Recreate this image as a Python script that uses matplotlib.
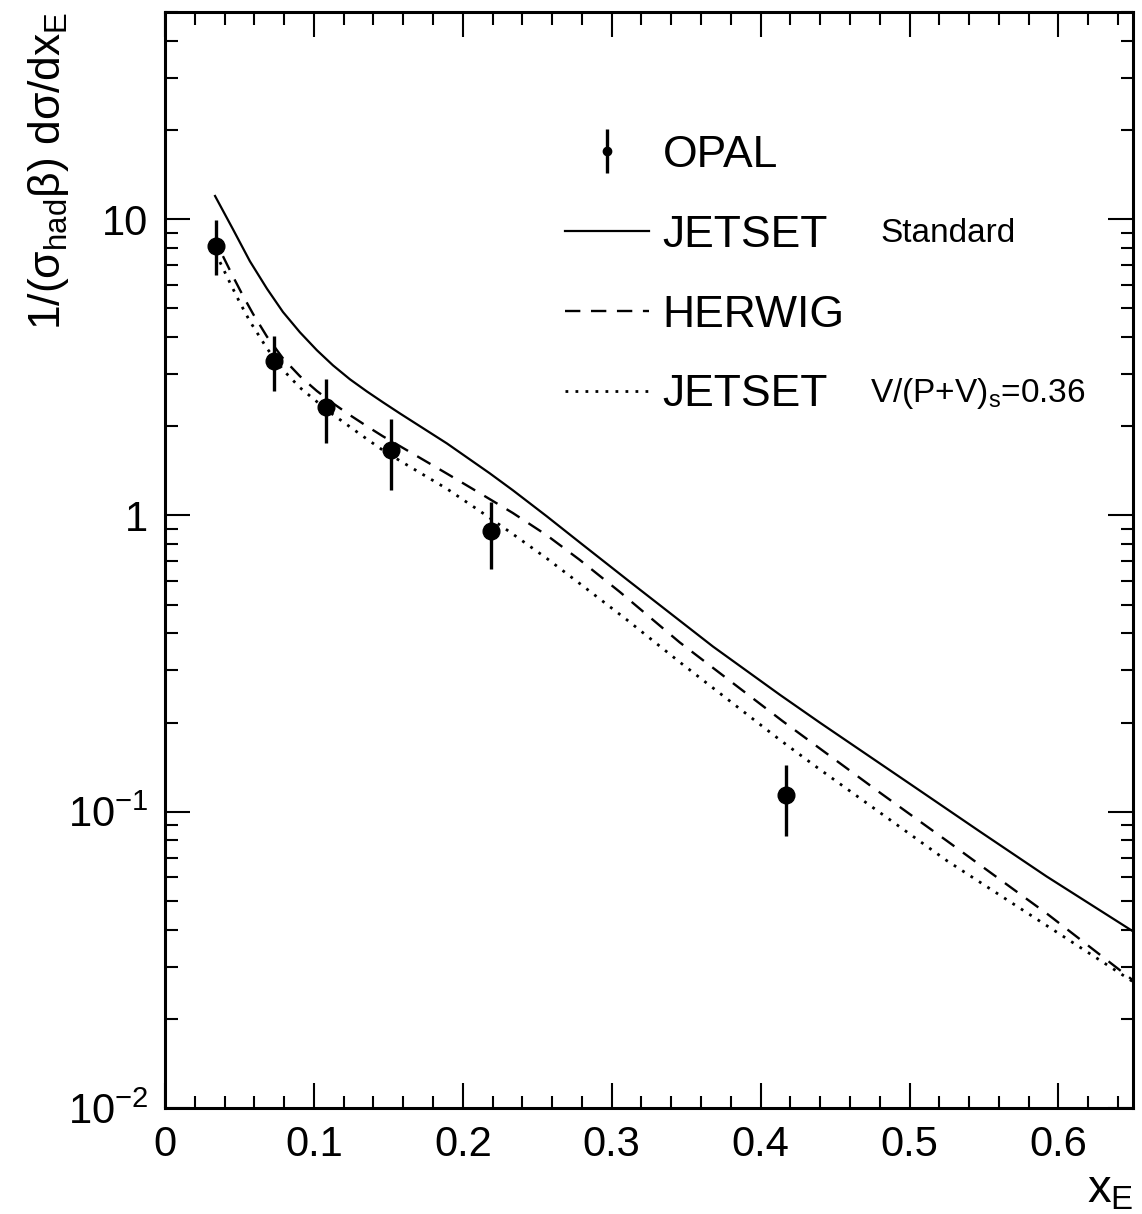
import numpy as np
import matplotlib
matplotlib.use("Agg")
import matplotlib.pyplot as plt
from matplotlib.ticker import FixedLocator, FixedFormatter, MultipleLocator, LogLocator, NullFormatter

plt.rcParams['font.family'] = ['Liberation Sans']
plt.rcParams['mathtext.fontset'] = 'custom'
plt.rcParams['mathtext.rm'] = 'Liberation Sans'
plt.rcParams['mathtext.it'] = 'Liberation Sans'
plt.rcParams['mathtext.bf'] = 'Liberation Sans:bold'
plt.rcParams['mathtext.sf'] = 'Liberation Sans'

# OPAL data points (x_E, value, upper and lower error bar ends)
opal_x = [0.034, 0.073, 0.108, 0.152, 0.219, 0.417]
opal_y = [8.1, 3.31, 2.32, 1.66, 0.883, 0.114]
opal_hi = [9.9, 4.03, 2.88, 2.11, 1.11, 0.144]
opal_lo = [6.5, 2.62, 1.75, 1.22, 0.657, 0.083]

# JETSET standard (solid)
jet_x = [0.0336, 0.0456, 0.057, 0.0685, 0.0792, 0.0906, 0.102, 0.1128, 0.1242, 0.1356,
         0.1463, 0.1577, 0.1893, 0.2181, 0.2336, 0.2564, 0.2785, 0.3107,
         0.368, 0.413, 0.44, 0.502, 0.547, 0.592, 0.65]
jet_y = [11.97, 9.25, 7.21, 5.82, 4.86, 4.15, 3.61, 3.21, 2.88, 2.62,
         2.41, 2.21, 1.75, 1.387, 1.216, 0.993, 0.811, 0.605,
         0.361, 0.248, 0.1995, 0.1225, 0.0859, 0.0605, 0.0395]

# HERWIG (dashed)
her_x = [0.0389, 0.0456, 0.0523, 0.0591, 0.0685, 0.0792, 0.0906, 0.102, 0.1128, 0.1242,
         0.1356, 0.1463, 0.1577, 0.1893, 0.2114, 0.2336, 0.2564, 0.2785, 0.3054,
         0.3456, 0.415, 0.48, 0.525, 0.5925, 0.65]
her_y = [7.50, 6.41, 5.52, 4.79, 4.01, 3.39, 2.95, 2.63, 2.39, 2.18,
         2.00, 1.85, 1.714, 1.384, 1.189, 1.019, 0.857, 0.708, 0.552,
         0.373, 0.2018, 0.1161, 0.0798, 0.0452, 0.0270]

# JETSET V/(P+V)s=0.36 (dotted)
jv_x = [0.0369, 0.0436, 0.0503, 0.057, 0.0685, 0.0792, 0.0906, 0.102, 0.1128, 0.1242,
        0.1356, 0.1463, 0.1577, 0.1893, 0.2114, 0.2336, 0.2564, 0.2785, 0.31,
        0.3456, 0.4128, 0.438, 0.525, 0.65]
jv_y = [7.16, 6.10, 5.22, 4.52, 3.66, 3.10, 2.70, 2.42, 2.19, 1.99,
        1.81, 1.66, 1.53, 1.23, 1.035, 0.865, 0.716, 0.589, 0.445,
        0.320, 0.175, 0.141, 0.0684, 0.0267]

fig = plt.figure(figsize=(11.42, 12.14), dpi=100)
ax = fig.add_axes([0.1445, 0.0873, 0.8475, 0.9028])

dash = (0, (6.5, 4.5))
dot = (0, (1, 2.6))
ax.plot(jet_x, jet_y, color='k', lw=1.6, ls='-')
ax.plot(her_x, her_y, color='k', lw=1.7, ls=dash)
ax.plot(jv_x, jv_y, color='k', lw=2.0, ls=dot)

oy = np.array(opal_y)
yerr = [oy - np.array(opal_lo), np.array(opal_hi) - oy]
ax.errorbar(opal_x, opal_y, yerr=yerr, fmt='o', color='k', ms=12,
            elinewidth=2.4, capsize=0)

ax.set_yscale('log')
ax.set_xlim(0, 0.65)
ax.set_ylim(0.01, 50)

ax.yaxis.set_major_locator(FixedLocator([0.01, 0.1, 1, 10]))
ax.yaxis.set_major_formatter(FixedFormatter([r'$10^{-2}$', r'$10^{-1}$', '1', '10']))
ax.yaxis.set_minor_locator(LogLocator(base=10, subs=np.arange(2, 10)))
ax.yaxis.set_minor_formatter(NullFormatter())
ax.xaxis.set_major_locator(MultipleLocator(0.1))
ax.xaxis.set_minor_locator(MultipleLocator(0.02))
ax.xaxis.set_major_formatter(plt.FuncFormatter(lambda v, p: '0' if abs(v) < 1e-9 else f'{v:.1f}'))

ax.tick_params(which='both', direction='in', top=True, right=True, width=1.5)
ax.tick_params(which='major', length=18, labelsize=30, pad=12)
ax.tick_params(which='minor', length=9)
for s in ax.spines.values():
    s.set_linewidth(2.2)

ax.set_ylabel(r'$1/(\sigma_{\rm had}\beta)\ d\sigma/dx_{\rm E}$', fontsize=32, loc='top')
ax.yaxis.set_label_coords(-0.097, 1.0)
ax.set_xlabel(r'$x_{\rm E}$', fontsize=34, loc='right')
ax.xaxis.set_label_coords(1.0, -0.055)

opal_h = ax.errorbar([], [], yerr=[], fmt='o', color='k', ms=6, elinewidth=2.4, capsize=0)
h1, = ax.plot([], [], color='k', lw=1.6, ls='-')
h2, = ax.plot([], [], color='k', lw=1.7, ls=dash)
h3, = ax.plot([], [], color='k', lw=2.0, ls=dot)
ax.legend([opal_h, h1, h2, h3], ['OPAL', 'JETSET', 'HERWIG', 'JETSET'],
          loc='upper left', bbox_to_anchor=(0.413, 0.888), frameon=False,
          fontsize=32, handlelength=1.9, handletextpad=0.3, labelspacing=0.875,
          borderpad=0, borderaxespad=0)

ax.text(0.739, 0.798, 'Standard', transform=ax.transAxes, fontsize=24, va='center')
ax.text(0.728, 0.652, r'V/(P+V)$_{\rm s}$=0.36', transform=ax.transAxes, fontsize=24, va='center')

fig.savefig('out.png', dpi=100)
